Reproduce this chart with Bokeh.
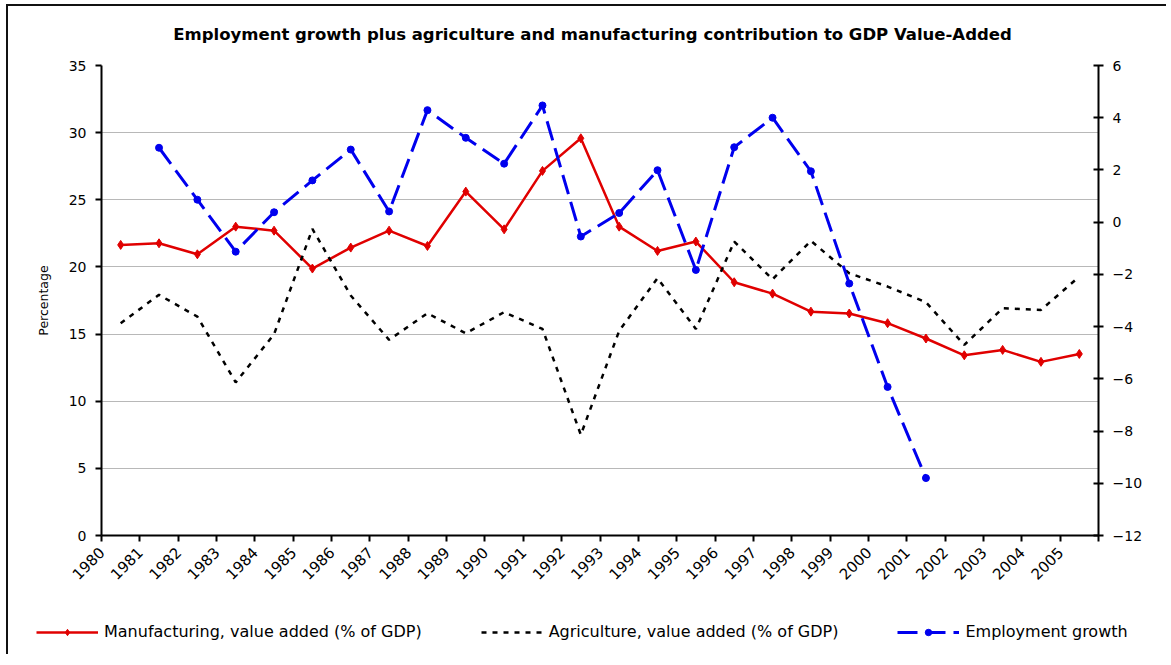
import math
from bokeh.plotting import figure
from bokeh.models import Range1d, LinearAxis, FixedTicker, Legend, LegendItem, Label
from bokeh.embed import file_html
from bokeh.resources import INLINE

nan = float("nan")

years = list(range(1980, 2006))
manufacturing = [21.64, 21.76, 20.94, 23.0, 22.7, 19.88, 21.44, 22.7, 21.56, 25.61,
                 22.80, 27.15, 29.58, 23.0, 21.19, 21.89, 18.86, 18.01, 16.67, 16.53,
                 15.81, 14.67, 13.42, 13.82, 12.93, 13.52]
agriculture = [15.81, 17.92, 16.30, 11.4, 14.99, 22.83, 17.87, 14.57, 16.55, 15.06,
               16.63, 15.38, 7.5, 15.24, 19.16, 15.38, 21.89, 19.08, 21.94, 19.53,
               18.54, 17.37, 14.19, 16.92, 16.80, 19.28]
employment = [nan, 2.85, 0.86, -1.13, 0.38, 1.60, 2.78, 0.41, 4.29, 3.23,
              2.24, 4.47, -0.55, 0.35, 1.99, -1.83, 2.87, 4.0, 1.95, -2.35,
              -6.31, -9.80, nan, nan, nan, nan]
left_ticks = [0, 5, 10, 15, 20, 25, 30, 35]
right_ticks = [-12, -10, -8, -6, -4, -2, 0, 2, 4, 6]

title_text = "Employment growth plus agriculture and manufacturing contribution to GDP Value-Added"
names = ["Manufacturing, value added (% of GDP)",
         "Agriculture, value added (% of GDP)",
         "Employment growth"]

FONT = "DejaVu Sans"
RED = "#e00000"
BLUE = "#0000ee"
W = 1160
EDGE = "2px solid #111111"

# band centres of the category axis
xs = [y - years[0] + 0.5 for y in years]

line_styles = [dict(line_color=RED, line_width=2.5),
               dict(line_color="black", line_width=2.5, line_dash="5 6"),
               dict(line_color=BLUE, line_width=3, line_dash="20 8")]
man_marker = dict(marker="diamond", size=9, fill_color=RED, line_color=RED)
emp_marker = dict(marker="circle", size=7, fill_color=BLUE, line_color=BLUE)


def strip(height):
    f = figure(width=W, height=height, output_backend="svg", toolbar_location=None,
               x_range=Range1d(0, 1), y_range=Range1d(0, 1), x_axis_type=None,
               y_axis_type=None, min_border=0, outline_line_color=None,
               border_fill_color="white", background_fill_color="white")
    f.grid.visible = False
    return f


# ---- title strip ----
tf = strip(50)
tf.margin = (4, 0, 0, 6)
tf.styles = {"border-left": EDGE, "border-top": EDGE}
tf.add_layout(Label(x=584, y=22, x_units="screen", y_units="screen", text=title_text,
                    text_align="center", text_baseline="middle", text_font=FONT,
                    text_font_size="16.5px", text_font_style="bold", text_color="black"))

# ---- main chart ----
p = figure(width=W, height=542, output_backend="svg", toolbar_location=None,
           x_range=Range1d(0, len(years)), y_range=Range1d(0, 35),
           min_border_left=93, min_border_right=W - 1090, min_border_top=11, min_border_bottom=61,
           outline_line_color=None, background_fill_color="white", border_fill_color="white")
p.margin = (0, 0, 0, 6)
p.styles = {"border-left": EDGE}
p.extra_y_ranges = {"emp": Range1d(-12, 6)}

xa = p.xaxis[0]
xa.ticker = FixedTicker(ticks=list(range(0, len(years) + 1)), minor_ticks=[])
xa.major_label_overrides = {i: str(y) for i, y in enumerate(years)}
xa.major_label_overrides[len(years)] = ""
xa.major_label_orientation = math.pi / 4
xa.major_tick_out = 6
xa.major_tick_in = 0
xa.major_label_standoff = 8
ya = p.yaxis[0]
ya.ticker = FixedTicker(ticks=left_ticks, minor_ticks=[])
ya.axis_label = "Percentage"
ya.axis_label_text_font = FONT
ya.axis_label_text_font_size = "12.5px"
ya.axis_label_text_font_style = "normal"
ya.axis_label_text_color = "black"
ya.axis_label_standoff = 15
ya.major_tick_out = 6
ya.major_tick_in = 0
ya.major_label_standoff = 9

ra = LinearAxis(y_range_name="emp", ticker=FixedTicker(ticks=right_ticks, minor_ticks=[]))
ra.major_tick_out = 5
ra.major_tick_in = 5
ra.major_label_standoff = 9
p.add_layout(ra, "right")

for ax in [xa, ya, ra]:
    ax.axis_line_color = "black"
    ax.axis_line_width = 2
    ax.major_tick_line_color = "black"
    ax.major_tick_line_width = 2
    ax.minor_tick_line_color = None
    ax.major_label_text_font = FONT
    ax.major_label_text_font_size = "14px"
    ax.major_label_text_color = "black"
xa.major_label_text_font_size = "15px"

p.xgrid.visible = False
p.ygrid.ticker = FixedTicker(ticks=left_ticks, minor_ticks=[])
p.ygrid.grid_line_color = "#707070"
p.ygrid.grid_line_dash = "1 1"
p.ygrid.grid_line_width = 1

p.line(xs, manufacturing, **line_styles[0])
p.scatter(xs, manufacturing, **man_marker)
p.line(xs, agriculture, **line_styles[1])
p.line(xs, employment, y_range_name="emp", **line_styles[2])
p.scatter(xs, employment, y_range_name="emp", **emp_marker)

# ---- legend strip (key glyphs sit off-canvas; only their legend swatches show) ----
lf = strip(58)
lf.margin = (0, 0, 0, 6)
lf.styles = {"border-left": EDGE}
off = [-10.0]
k0 = lf.line(off, off, **line_styles[0])
k0m = lf.scatter(off, off, **man_marker)
k1 = lf.line(off, off, **line_styles[1])
k2 = lf.line(off, off, **line_styles[2])
k2m = lf.scatter(off, off, **emp_marker)
legend = Legend(items=[LegendItem(label=names[0], renderers=[k0, k0m]),
                       LegendItem(label=names[1], renderers=[k1]),
                       LegendItem(label=names[2], renderers=[k2, k2m])],
                orientation="horizontal", location=(28, 13),
                glyph_width=62, glyph_height=16, label_standoff=6, spacing=59,
                padding=0, margin=0, border_line_color=None, background_fill_alpha=0,
                label_text_font=FONT, label_text_font_size="16px", label_text_color="black")
lf.add_layout(legend, "center")

open("out.html", "w").write(file_html([tf, p, lf], INLINE))
